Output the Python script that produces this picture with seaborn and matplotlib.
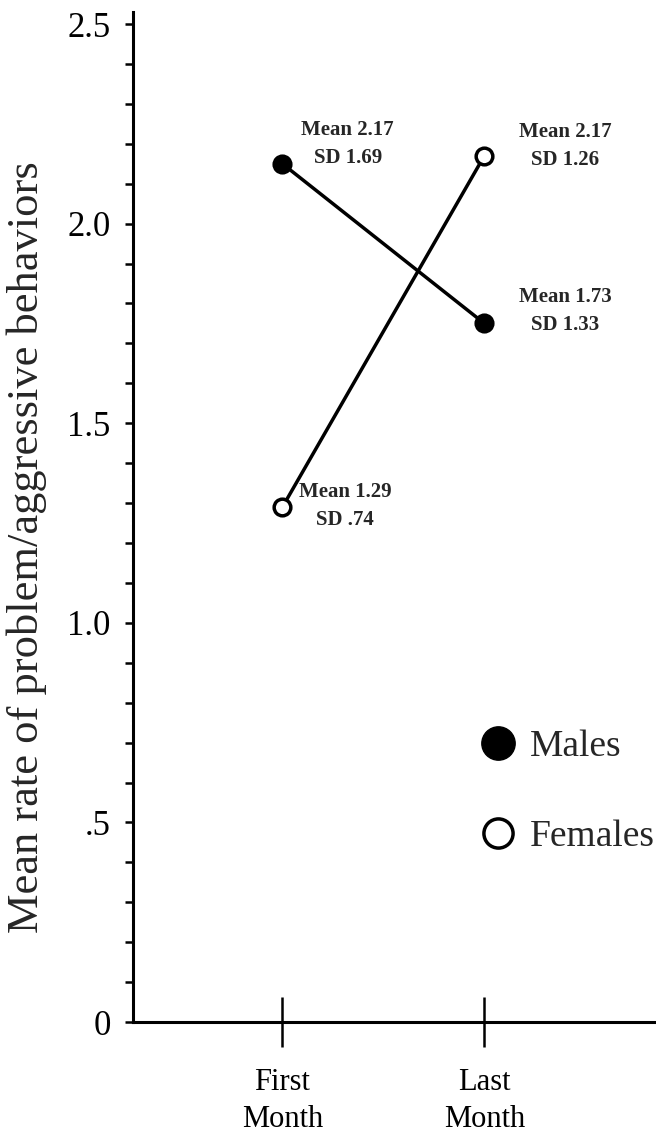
import numpy as np
import matplotlib.pyplot as plt
import seaborn as sns
import pandas as pd
from matplotlib.lines import Line2D
from matplotlib.ticker import MultipleLocator, FixedLocator, FixedFormatter

# data
months = ["First\nMonth", "Last\nMonth"]
males = [2.15, 1.75]
females = [1.29, 2.17]
male_notes = ["Mean 2.17\nSD 1.69", "Mean 1.73\nSD 1.33"]
female_notes = ["Mean 1.29\nSD .74", "Mean 2.17\nSD 1.26"]
y_ticks = [0, 0.5, 1.0, 1.5, 2.0, 2.5]
y_ticklabels = ["0", ".5", "1.0", "1.5", "2.0", "2.5"]

df = pd.DataFrame({
	"month": months * 2,
	"rate": males + females,
	"group": ["Males"] * 2 + ["Females"] * 2,
})

sns.set_style("ticks")
plt.rcParams['font.family'] = ['Liberation Serif', 'DejaVu Serif']

fig = plt.figure(figsize=(6.56, 11.37), dpi=100)
ax = fig.add_axes([0.2027, 0.1011, 0.7973, 0.8883])

# lines with markers
sns.lineplot(data=df[df.group == "Males"], x="month", y="rate", ax=ax,
			 color="black", lw=2.5, marker="o", markersize=13,
			 markerfacecolor="black", markeredgecolor="black", mew=1.5)
sns.lineplot(data=df[df.group == "Females"], x="month", y="rate", ax=ax,
			 color="black", lw=2.5, marker="o", markersize=12,
			 markerfacecolor="white", markeredgecolor="black", mew=2.5)

# mean / SD notes, offsets in points from the marker
male_offsets = [(47, 14), (58, 9)]
female_offsets = [(45, 1), (58, 7)]
for i in range(2):
	ax.annotate(male_notes[i], xy=(i, males[i]), xytext=male_offsets[i],
				textcoords="offset points", ha="center", va="center",
				fontsize=15, fontweight="bold", linespacing=1.55)
	ax.annotate(female_notes[i], xy=(i, females[i]), xytext=female_offsets[i],
				textcoords="offset points", ha="center", va="center",
				fontsize=15, fontweight="bold", linespacing=1.55)

# axes
ax.set_xlim(-0.74, 1.85)
ax.set_ylim(0, 2.53)
ax.yaxis.set_major_locator(FixedLocator(y_ticks))
ax.yaxis.set_major_formatter(FixedFormatter(y_ticklabels))
ax.yaxis.set_minor_locator(MultipleLocator(0.1))

sns.despine(ax=ax)
for s in ["left", "bottom"]:
	ax.spines[s].set_linewidth(2.2)
	ax.spines[s].set_color("black")

ax.tick_params(axis="x", direction="inout", length=36, width=1.8, pad=15,
			   labelsize=22, colors="black")
ax.tick_params(axis="y", which="both", direction="out", length=6, width=1.8,
			   pad=10, labelsize=25, colors="black")
for lab in ax.get_xticklabels():
	lab.set_linespacing(1.35)

ax.set_xlabel("")
ax.set_ylabel("Mean rate of problem/aggressive behaviors", fontsize=32)
ax.yaxis.set_label_coords(-0.165, 0.47)

# legend
handles = [
	Line2D([], [], ls="none", marker="o", markersize=24, markerfacecolor="black",
		   markeredgecolor="black"),
	Line2D([], [], ls="none", marker="o", markersize=21, markerfacecolor="white",
		   markeredgecolor="black", markeredgewidth=2.5),
]
ax.legend(handles, ["Males", "Females"], loc="center left",
		  bbox_to_anchor=(0.662, 0.228), frameon=False, fontsize=27,
		  handlelength=1.0, handletextpad=0.35, labelspacing=1.5, borderpad=0,
		  borderaxespad=0)

fig.savefig("out.png", dpi=100)
